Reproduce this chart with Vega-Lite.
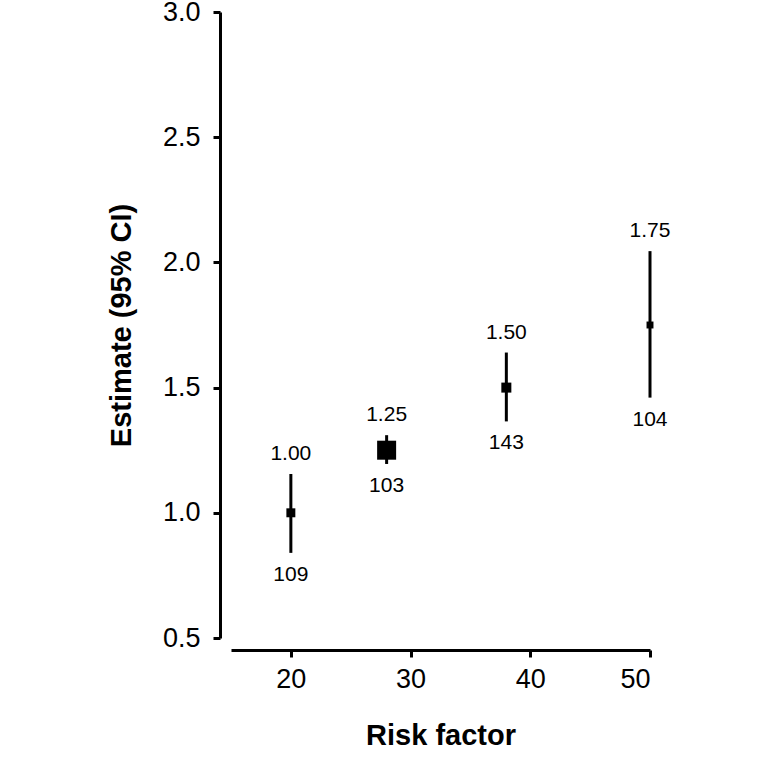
{
  "$schema": "https://vega.github.io/schema/vega-lite/v6.json",
  "autosize": {"type": "none"},
  "padding": {"left": 231, "top": 12, "right": 118, "bottom": 130},
  "width": 419,
  "height": 626,
  "config": {
    "view": {"stroke": null},
    "font": "Liberation Sans",
    "axis": {
      "grid": false,
      "domainColor": "black",
      "domainWidth": 3,
      "tickColor": "black",
      "tickWidth": 3,
      "labelColor": "black",
      "labelFont": "Liberation Sans",
      "labelFontSize": 27,
      "titleFont": "Liberation Sans",
      "titleFontSize": 29,
      "titleFontWeight": "bold",
      "titleColor": "black"
    }
  },
  "data": {
    "values": [
      {"risk": 20, "estimate": 1.00, "lower": 0.84, "upper": 1.155, "n": "109", "label": "1.00", "weight": 1.0},
      {"risk": 28, "estimate": 1.25, "lower": 1.195, "upper": 1.31, "n": "103", "label": "1.25", "weight": 4.5},
      {"risk": 38, "estimate": 1.50, "lower": 1.365, "upper": 1.64, "n": "143", "label": "1.50", "weight": 1.25},
      {"risk": 50, "estimate": 1.75, "lower": 1.46, "upper": 2.045, "n": "104", "label": "1.75", "weight": 0.6}
    ]
  },
  "encoding": {
    "x": {
      "field": "risk",
      "type": "quantitative",
      "scale": {"domain": [15, 50], "nice": false, "zero": false},
      "axis": {
        "title": "Risk factor",
        "values": [20, 30, 40, 50],
        "offset": 12,
        "tickSize": 7,
        "labelPadding": 9,
        "titlePadding": 29
      }
    }
  },
  "layer": [
    {
      "mark": {"type": "rule", "color": "black", "strokeWidth": 3},
      "encoding": {
        "y": {
          "field": "lower",
          "type": "quantitative",
          "scale": {"domain": [0.5, 3.0], "nice": false, "zero": false},
          "axis": {
            "title": "Estimate (95% CI)",
            "values": [0.5, 1.0, 1.5, 2.0, 2.5, 3.0],
            "format": ".1f",
            "offset": 11,
            "tickSize": 7,
            "labelPadding": 13,
            "titlePadding": 26
          }
        },
        "y2": {"field": "upper"}
      }
    },
    {
      "mark": {"type": "square", "color": "black", "filled": true, "opacity": 1},
      "encoding": {
        "y": {"field": "estimate", "type": "quantitative"},
        "size": {
          "field": "weight",
          "type": "quantitative",
          "scale": {"type": "linear", "domain": [0, 4.5], "range": [0, 361]},
          "legend": null
        }
      }
    },
    {
      "mark": {"type": "text", "color": "black", "fontSize": 21, "baseline": "middle", "align": "center", "dy": -20},
      "encoding": {
        "y": {"field": "upper", "type": "quantitative"},
        "text": {"field": "label"}
      }
    },
    {
      "mark": {"type": "text", "color": "black", "fontSize": 21, "baseline": "middle", "align": "center", "dy": 22},
      "encoding": {
        "y": {"field": "lower", "type": "quantitative"},
        "text": {"field": "n"}
      }
    }
  ]
}
